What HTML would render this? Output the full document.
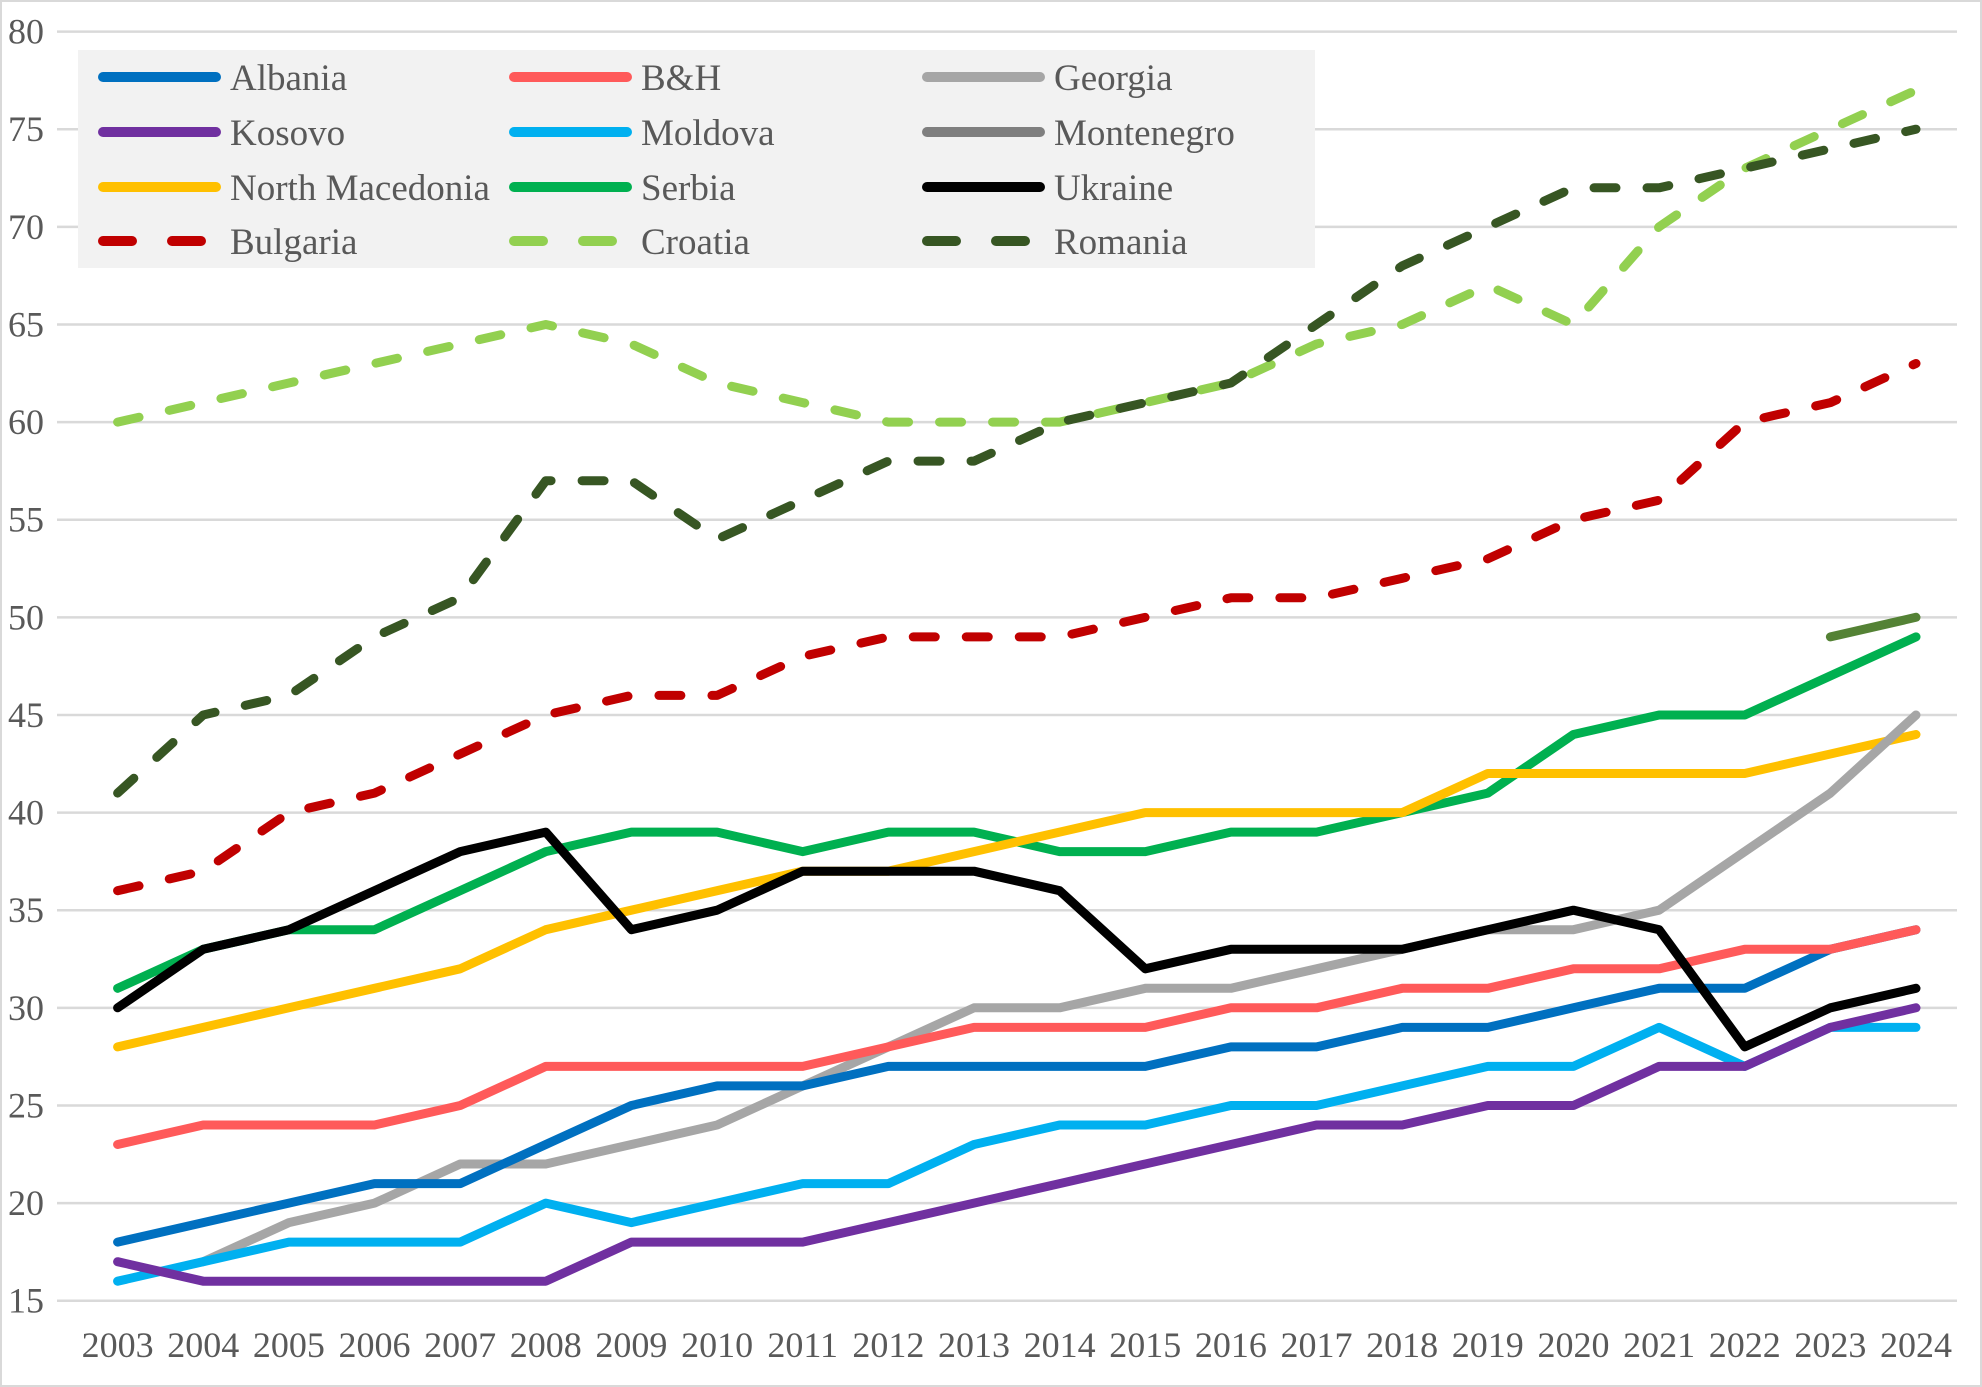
<!DOCTYPE html>
<html><head><meta charset="utf-8"><style>
html,body{margin:0;padding:0;background:#fff;}
svg{display:block;font-family:"Liberation Serif",serif;}
</style></head><body>
<svg id="chart" width="1982" height="1387">
<rect x="1" y="1" width="1980" height="1385" fill="#fff" stroke="#d9d9d9" stroke-width="2"/>
<g id="grid"></g><g id="series"></g><g id="legend"></g>
</svg>
<script>
const years=[2003,2004,2005,2006,2007,2008,2009,2010,2011,2012,2013,2014,2015,2016,2017,2018,2019,2020,2021,2022,2023,2024];
const yTicks=[15,20,25,30,35,40,45,50,55,60,65,70,75,80];
const albania=[18,19,20,21,21,23,25,26,26,27,27,27,27,28,28,29,29,30,31,31,33,34];
const bh=[23,24,24,24,25,27,27,27,27,28,29,29,29,30,30,31,31,32,32,33,33,34];
const georgia=[null,17,19,20,22,22,23,24,26,28,30,30,31,31,32,33,34,34,35,38,41,45];
const kosovo=[17,16,16,16,16,16,18,18,18,19,20,21,22,23,24,24,25,25,27,27,29,30];
const moldova=[16,17,18,18,18,20,19,20,21,21,23,24,24,25,25,26,27,27,29,27,29,29];
const montenegro=[null,null,null,null,null,null,null,null,null,null,null,null,null,null,null,null,null,null,null,null,49,50];
const macedonia=[28,29,30,31,32,34,35,36,37,37,38,39,40,40,40,40,42,42,42,42,43,44];
const serbia=[31,33,34,34,36,38,39,39,38,39,39,38,38,39,39,40,41,44,45,45,47,49];
const ukraine=[30,33,34,36,38,39,34,35,37,37,37,36,32,33,33,33,34,35,34,28,30,31];
const bulgaria=[36,37,40,41,43,45,46,46,48,49,49,49,50,51,51,52,53,55,56,60,61,63];
const croatia=[60,61,62,63,64,65,64,62,61,60,60,60,61,62,64,65,67,65,70,73,75,77];
const romania=[41,45,46,49,51,57,57,54,56,58,58,60,61,62,65,68,70,72,72,73,74,75];

const NS='http://www.w3.org/2000/svg';
const X0=117.6,X1=1916,Y80=31.6,Y15=1300.7;
const xs=i=>X0+(X1-X0)*i/(years.length-1);
const ys=v=>Y15-(v-15)*(Y15-Y80)/65;
function mk(t,a,p){const e=document.createElementNS(NS,t);for(const k in a)e.setAttribute(k,a[k]);p.appendChild(e);return e;}
const grid=document.getElementById('grid');
yTicks.forEach(v=>{
  const l=mk('line',{x1:57,x2:1957,y1:ys(v),y2:ys(v),stroke:'#d9d9d9','stroke-width':2.5},grid);
  
  
  const t=mk('text',{x:44,y:ys(v)+12,'text-anchor':'end','font-size':36,fill:'#595959'},grid);
  t.textContent=v;
  
  
});
years.forEach((y,i)=>{
  const t=mk('text',{x:xs(i),y:1357,'text-anchor':'middle','font-size':36,fill:'#595959'},grid);
  t.textContent=y;
  
  
});
const S=[
 ['Albania',albania,'#0070c0',false],
 ['B&H',bh,'#ff5a5a',false],
 ['Georgia',georgia,'#a6a6a6',false],
 ['Kosovo',kosovo,'#7030a0',false],
 ['Moldova',moldova,'#00b0f0',false],
 ['Montenegro',montenegro,'#548235',false,'#7f7f7f'],
 ['North Macedonia',macedonia,'#ffc000',false],
 ['Serbia',serbia,'#00b050',false],
 ['Ukraine',ukraine,'#000000',false],
 ['Bulgaria',bulgaria,'#c00000',true],
 ['Croatia',croatia,'#92d050',true],
 ['Romania',romania,'#375623',true]
];
const order=[10,11,9,5,7,6,2,0,1,4,3,8];
const sg=document.getElementById('series');
order.forEach(k=>{
  const [n,d,c,dash]=S[k];
  let p='';let pen=false;
  d.forEach((v,i)=>{if(v==null){pen=false;return;}p+=(pen?'L':'M')+xs(i).toFixed(1)+' '+ys(v).toFixed(1);pen=true;});
  const e=mk('path',{d:p,fill:'none',stroke:c,'stroke-width':9,'stroke-linecap':'round','stroke-linejoin':'round'},sg);
  if(dash)e.setAttribute('stroke-dasharray','22 31');
  
  
});
const lg=document.getElementById('legend');
const box=mk('rect',{x:78,y:50,width:1237,height:218,fill:'#f2f2f2'},lg);


const colX=[98,509,922],rowY=[77,132,187,241];
S.forEach((s,i)=>{
  const cx=colX[i%3],cy=rowY[Math.floor(i/3)];
  const g=mk('g',{},lg);
  
  
  const l=mk('line',{x1:cx+5,x2:cx+118,y1:cy,y2:cy,stroke:s[4]||s[2],'stroke-width':10,'stroke-linecap':'round'},g);
  if(s[3])l.setAttribute('stroke-dasharray','29 40');
  const t=mk('text',{x:cx+132,y:cy+13,'font-size':37,fill:'#595959'},g);
  t.textContent=s[0];
});
</script>
</body></html>
